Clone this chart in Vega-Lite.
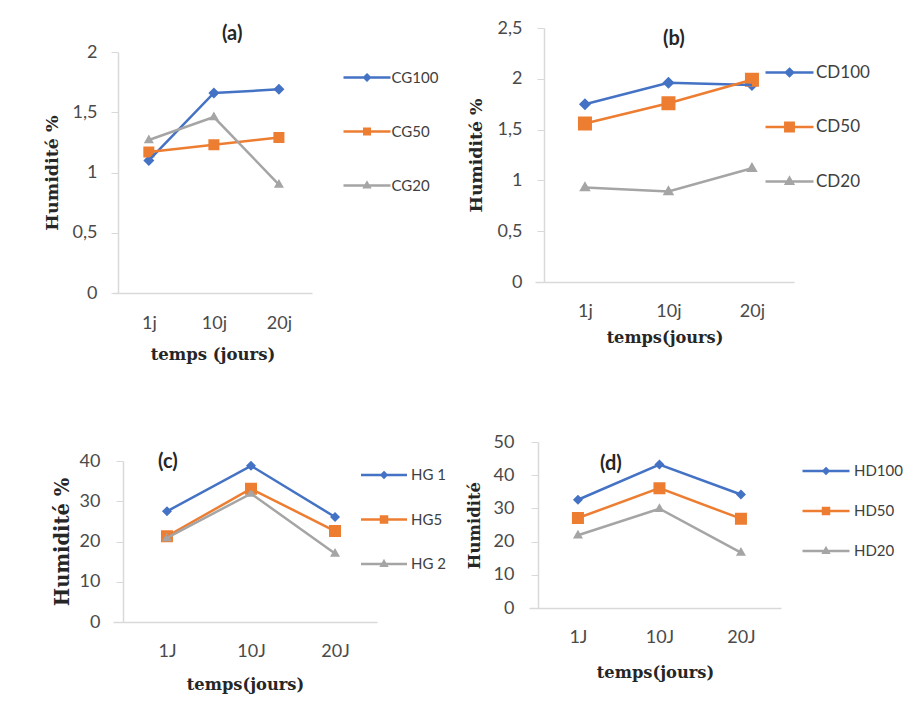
{
  "$schema": "https://vega.github.io/schema/vega-lite/v6.json",
  "background": "white",
  "autosize": {"type": "none"},
  "padding": {"left": 113, "top": 28, "right": 803, "bottom": 689},
  "config": {"view": {"stroke": null}, "font": "Lato"},
  "datasets": {
    "a": [
      {"t": "1j", "s": "CG100", "v": 1.10}, {"t": "10j", "s": "CG100", "v": 1.66}, {"t": "20j", "s": "CG100", "v": 1.69},
      {"t": "1j", "s": "CG50", "v": 1.17}, {"t": "10j", "s": "CG50", "v": 1.23}, {"t": "20j", "s": "CG50", "v": 1.29},
      {"t": "1j", "s": "CG20", "v": 1.27}, {"t": "10j", "s": "CG20", "v": 1.46}, {"t": "20j", "s": "CG20", "v": 0.90}
    ],
    "b": [
      {"t": "1j", "s": "CD100", "v": 1.75}, {"t": "10j", "s": "CD100", "v": 1.96}, {"t": "20j", "s": "CD100", "v": 1.94},
      {"t": "1j", "s": "CD50", "v": 1.56}, {"t": "10j", "s": "CD50", "v": 1.76}, {"t": "20j", "s": "CD50", "v": 1.99},
      {"t": "1j", "s": "CD20", "v": 0.93}, {"t": "10j", "s": "CD20", "v": 0.89}, {"t": "20j", "s": "CD20", "v": 1.12}
    ],
    "c": [
      {"t": "1J", "s": "HG 100", "v": 27.5}, {"t": "10J", "s": "HG 100", "v": 38.8}, {"t": "20J", "s": "HG 100", "v": 26.1},
      {"t": "1J", "s": "HG50", "v": 21.3}, {"t": "10J", "s": "HG50", "v": 33.1}, {"t": "20J", "s": "HG50", "v": 22.6},
      {"t": "1J", "s": "HG 20", "v": 20.9}, {"t": "10J", "s": "HG 20", "v": 31.9}, {"t": "20J", "s": "HG 20", "v": 17.0}
    ],
    "d": [
      {"t": "1J", "s": "HD100", "v": 32.6}, {"t": "10J", "s": "HD100", "v": 43.2}, {"t": "20J", "s": "HD100", "v": 34.2},
      {"t": "1J", "s": "HD50", "v": 27.1}, {"t": "10J", "s": "HD50", "v": 36.1}, {"t": "20J", "s": "HD50", "v": 26.9},
      {"t": "1J", "s": "HD20", "v": 21.9}, {"t": "10J", "s": "HD20", "v": 29.9}, {"t": "20J", "s": "HD20", "v": 16.7}
    ]
  },
  "resolve": {"scale": {"fill": "independent", "stroke": "independent", "shape": "independent"}, "legend": {"fill": "independent", "stroke": "independent", "shape": "independent"}},
  "spacing": 70,
  "vconcat": [
    {
      "spacing": 28,
      "resolve": {"scale": {"fill": "independent", "stroke": "independent", "shape": "independent"}, "legend": {"fill": "independent", "stroke": "independent", "shape": "independent"}},
      "hconcat": [
        {
          "width": 199, "height": 265,
          "title": {"text": "(a)", "anchor": "start", "frame": "group", "offset": 0, "dx": 109, "dy": 15.5, "font": "Lato", "fontSize": 20, "fontWeight": "bold", "color": "#262626"},
          "data": {"name": "a"},
          "encoding": {
            "x": {"field": "t", "type": "ordinal", "sort": ["1j", "10j", "20j"], "scale": {"type": "point", "padding": 0.53, "align": 0.52},
              "axis": {"title": "temps (jours)", "titleFont": "DejaVu Serif", "titleFontWeight": "bold", "titleFontSize": 16.5, "titleColor": "#262626", "titlePadding": 14, "labelFont": "Lato", "labelFontSize": 18, "labelColor": "#4a4a4a", "labelPadding": 21, "labelAngle": 0, "ticks": false, "tickSize": 0, "domainColor": "#d9d9d9", "domainWidth": 1.5, "grid": false}},
            "y": {"field": "v", "type": "quantitative", "scale": {"domain": [0, 2], "range": [265, 24], "nice": false},
              "axis": {"title": "Humidité %", "titleFont": "DejaVu Serif", "titleFontWeight": "bold", "titleFontSize": 17.5, "titleColor": "#262626", "titlePadding": 11, "values": [0, 0.5, 1, 1.5, 2], "labelExpr": "replace(toString(datum.value), '.', ',')", "labelFont": "Lato", "labelFontSize": 18, "labelColor": "#4a4a4a", "labelPadding": 14, "tickSize": 7, "tickColor": "#d9d9d9", "domainColor": "#d9d9d9", "domainWidth": 1.5, "offset": -5, "grid": false}},
            "stroke": {"field": "s", "type": "nominal", "sort": ["CG100", "CG50", "CG20"], "scale": {"domain": ["CG100", "CG50", "CG20"], "range": ["#4472C4", "#ED7D31", "#A5A5A5"]},
              "legend": {"title": null, "orient": "none", "legendX": 246.5, "legendY": 42, "padding": 0, "symbolSize": 25, "symbolStrokeWidth": 2.5, "labelFont": "Lato", "labelFontSize": 15, "labelColor": "#404040", "labelOffset": 17, "rowPadding": 37}}
          },
          "layer": [
            {"mark": {"type": "point", "filled": true, "opacity": 1, "size": 100, "strokeWidth": 0},
              "encoding": {
                "fill": {"field": "s", "type": "nominal", "sort": ["CG100", "CG50", "CG20"], "scale": {"domain": ["CG100", "CG50", "CG20"], "range": ["#4472C4", "#ED7D31", "#A5A5A5"]},
                  "legend": {"title": null, "orient": "none", "legendX": 246.5, "legendY": 42, "padding": 0, "symbolSize": 25, "symbolStrokeWidth": 2.5, "labelFont": "Lato", "labelFontSize": 15, "labelColor": "#404040", "labelOffset": 17, "rowPadding": 37}},
                "shape": {"field": "s", "type": "nominal", "sort": ["CG100", "CG50", "CG20"], "scale": {"domain": ["CG100", "CG50", "CG20"], "range": ["M-9.4,0H9.4M0,-1.1L1.1,0L0,1.1L-1.1,0Z", "M-9.4,0H9.4M-1.1,-1.1H1.1V1.1H-1.1Z", "M-9.4,0H9.4M0,-1.1L1,0.65L-1,0.65Z"]},
                  "legend": {"title": null, "orient": "none", "legendX": 246.5, "legendY": 42, "padding": 0, "symbolSize": 25, "symbolStrokeWidth": 2.5, "labelFont": "Lato", "labelFontSize": 15, "labelColor": "#404040", "labelOffset": 17, "rowPadding": 37}}}},
            {"mark": {"type": "line", "strokeWidth": 2.5}}
          ]
        },
        {
          "width": 259, "height": 254,
          "title": {"text": "(b)", "anchor": "start", "frame": "group", "offset": 0, "dx": 128, "dy": 29.5, "font": "Lato", "fontSize": 20, "fontWeight": "bold", "color": "#262626"},
          "data": {"name": "b"},
          "encoding": {
            "x": {"field": "t", "type": "ordinal", "sort": ["1j", "10j", "20j"], "scale": {"type": "point", "padding": 0.551, "align": 0.543},
              "axis": {"title": "temps(jours)", "titleFont": "DejaVu Serif", "titleFontWeight": "bold", "titleFontSize": 16.2, "titleColor": "#262626", "titlePadding": 9, "labelFont": "Lato", "labelFontSize": 18, "labelColor": "#4a4a4a", "labelPadding": 20, "labelAngle": 0, "ticks": false, "tickSize": 0, "domainColor": "#d9d9d9", "domainWidth": 1.5, "grid": false}},
            "y": {"field": "v", "type": "quantitative", "scale": {"domain": [0, 2.5], "nice": false},
              "axis": {"title": "Humidité %", "titleFont": "DejaVu Serif", "titleFontWeight": "bold", "titleFontSize": 17.3, "titleColor": "#262626", "titlePadding": 12, "values": [0, 0.5, 1, 1.5, 2, 2.5], "labelExpr": "replace(toString(datum.value), '.', ',')", "labelFont": "Lato", "labelFontSize": 18, "labelColor": "#4a4a4a", "labelPadding": 15, "tickSize": 7, "tickColor": "#d9d9d9", "domainColor": "#d9d9d9", "domainWidth": 1.5, "offset": -9, "grid": false}},
            "stroke": {"field": "s", "type": "nominal", "sort": ["CD100", "CD50", "CD20"], "scale": {"domain": ["CD100", "CD50", "CD20"], "range": ["#4472C4", "#ED7D31", "#A5A5A5"]},
              "legend": {"title": null, "orient": "none", "legendX": 246, "legendY": 36, "padding": 0, "symbolSize": 36, "symbolStrokeWidth": 2.5, "labelFont": "Lato", "labelFontSize": 17, "labelColor": "#404040", "labelOffset": 18, "rowPadding": 35.5}}
          },
          "layer": [
            {"mark": {"type": "point", "filled": true, "opacity": 1, "size": 100, "strokeWidth": 0},
              "encoding": {
                "fill": {"field": "s", "type": "nominal", "sort": ["CD100", "CD50", "CD20"], "scale": {"domain": ["CD100", "CD50", "CD20"], "range": ["#4472C4", "#ED7D31", "#A5A5A5"]},
                  "legend": {"title": null, "orient": "none", "legendX": 246, "legendY": 36, "padding": 0, "symbolSize": 36, "symbolStrokeWidth": 2.5, "labelFont": "Lato", "labelFontSize": 17, "labelColor": "#404040", "labelOffset": 18, "rowPadding": 35.5}},
                "shape": {"field": "s", "type": "nominal", "sort": ["CD100", "CD50", "CD20"], "scale": {"domain": ["CD100", "CD50", "CD20"], "range": ["M-8,0H8M0,-1.2L1.2,0L0,1.2L-1.2,0Z", "M-8,0H8M-1.4,-1.4H1.4V1.4H-1.4Z", "M-8,0H8M0,-1.25L1.15,0.75L-1.15,0.75Z"]},
                  "legend": {"title": null, "orient": "none", "legendX": 246, "legendY": 36, "padding": 0, "symbolSize": 36, "symbolStrokeWidth": 2.5, "labelFont": "Lato", "labelFontSize": 17, "labelColor": "#404040", "labelOffset": 18, "rowPadding": 35.5}}}},
            {"mark": {"type": "line", "strokeWidth": 2.5}}
          ]
        }
      ]
    },
    {
      "spacing": 19,
      "resolve": {"scale": {"fill": "independent", "stroke": "independent", "shape": "independent"}, "legend": {"fill": "independent", "stroke": "independent", "shape": "independent"}},
      "hconcat": [
        {
          "width": 264, "height": 180,
          "title": {"text": "(c)", "anchor": "start", "frame": "group", "offset": 0, "dx": 45, "dy": 29.5, "font": "Lato", "fontSize": 20, "fontWeight": "bold", "color": "#262626"},
          "data": {"name": "c"},
          "encoding": {
            "x": {"field": "t", "type": "ordinal", "sort": ["1J", "10J", "20J"], "scale": {"type": "point", "padding": 0.571, "align": 0.5625},
              "axis": {"title": "temps(jours)", "titleFont": "DejaVu Serif", "titleFontWeight": "bold", "titleFontSize": 16.3, "titleColor": "#262626", "titlePadding": 16, "labelFont": "Lato", "labelFontSize": 18, "labelColor": "#4a4a4a", "labelPadding": 20, "labelAngle": 0, "ticks": false, "tickSize": 0, "domainColor": "#d9d9d9", "domainWidth": 1.5, "grid": false}},
            "y": {"field": "v", "type": "quantitative", "scale": {"domain": [0, 40], "range": [180, 19], "nice": false},
              "axis": {"title": "Humidité %", "titleFont": "DejaVu Serif", "titleFontWeight": "bold", "titleFontSize": 19.5, "titleColor": "#262626", "titlePadding": 7, "values": [0, 10, 20, 30, 40], "labelFont": "Lato", "labelFontSize": 18, "labelColor": "#4a4a4a", "labelPadding": 16, "tickSize": 7, "tickColor": "#d9d9d9", "domainColor": "#d9d9d9", "domainWidth": 1.5, "offset": -10, "grid": false}},
            "stroke": {"field": "s", "type": "nominal", "sort": ["HG 100", "HG50", "HG 20"], "scale": {"domain": ["HG 100", "HG50", "HG 20"], "range": ["#4472C4", "#ED7D31", "#A5A5A5"]},
              "legend": {"title": null, "orient": "none", "legendX": 263.5, "legendY": 25.5, "padding": 0, "symbolSize": 25, "symbolStrokeWidth": 2.5, "labelFont": "Lato", "labelFontSize": 15, "labelColor": "#404040", "labelOffset": 19.5, "rowPadding": 27.5,
                "labelExpr": "datum.label === 'HG 100' ? 'HG 1' : datum.label === 'HG50' ? 'HG5' : 'HG 2'"}}
          },
          "layer": [
            {"mark": {"type": "point", "filled": true, "opacity": 1, "size": 100, "strokeWidth": 0},
              "encoding": {
                "fill": {"field": "s", "type": "nominal", "sort": ["HG 100", "HG50", "HG 20"], "scale": {"domain": ["HG 100", "HG50", "HG 20"], "range": ["#4472C4", "#ED7D31", "#A5A5A5"]},
                  "legend": {"title": null, "orient": "none", "legendX": 263.5, "legendY": 25.5, "padding": 0, "symbolSize": 25, "symbolStrokeWidth": 2.5, "labelFont": "Lato", "labelFontSize": 15, "labelColor": "#404040", "labelOffset": 19.5, "rowPadding": 27.5,
                    "labelExpr": "datum.label === 'HG 100' ? 'HG 1' : datum.label === 'HG50' ? 'HG5' : 'HG 2'"}},
                "shape": {"field": "s", "type": "nominal", "sort": ["HG 100", "HG50", "HG 20"], "scale": {"domain": ["HG 100", "HG50", "HG 20"], "range": ["M-9.2,0H9.2M0,-1L1,0L0,1L-1,0Z", "M-9.2,0H9.2M-1.2,-1.2H1.2V1.2H-1.2Z", "M-9.2,0H9.2M0,-1.1L1,0.65L-1,0.65Z"]},
                  "legend": {"title": null, "orient": "none", "legendX": 263.5, "legendY": 25.5, "padding": 0, "symbolSize": 25, "symbolStrokeWidth": 2.5, "labelFont": "Lato", "labelFontSize": 15, "labelColor": "#404040", "labelOffset": 19.5, "rowPadding": 27.5,
                    "labelExpr": "datum.label === 'HG 100' ? 'HG 1' : datum.label === 'HG50' ? 'HG5' : 'HG 2'"}}}},
            {"mark": {"type": "line", "strokeWidth": 2.5}}
          ]
        },
        {
          "width": 252, "height": 166,
          "title": {"text": "(d)", "anchor": "start", "frame": "group", "offset": 0, "dx": 71, "dy": 40.5, "font": "Lato", "fontSize": 20, "fontWeight": "bold", "color": "#262626"},
          "data": {"name": "d"},
          "encoding": {
            "x": {"field": "t", "type": "ordinal", "sort": ["1J", "10J", "20J"], "scale": {"type": "point", "padding": 0.546, "align": 0.55},
              "axis": {"title": "temps(jours)", "titleFont": "DejaVu Serif", "titleFontWeight": "bold", "titleFontSize": 16.3, "titleColor": "#262626", "titlePadding": 18, "labelFont": "Lato", "labelFontSize": 18, "labelColor": "#4a4a4a", "labelPadding": 20, "labelAngle": 0, "ticks": false, "tickSize": 0, "domainColor": "#d9d9d9", "domainWidth": 1.5, "grid": false}},
            "y": {"field": "v", "type": "quantitative", "scale": {"domain": [0, 50], "nice": false},
              "axis": {"title": "Humidité", "titleFont": "DejaVu Serif", "titleFontWeight": "bold", "titleFontSize": 16.5, "titleColor": "#262626", "titlePadding": 11, "values": [0, 10, 20, 30, 40, 50], "labelFont": "Lato", "labelFontSize": 18, "labelColor": "#4a4a4a", "labelPadding": 17, "tickSize": 7, "tickColor": "#d9d9d9", "domainColor": "#d9d9d9", "domainWidth": 1.5, "offset": -9, "grid": false}},
            "stroke": {"field": "s", "type": "nominal", "sort": ["HD100", "HD50", "HD20"], "scale": {"domain": ["HD100", "HD50", "HD20"], "range": ["#4472C4", "#ED7D31", "#A5A5A5"]},
              "legend": {"title": null, "orient": "none", "legendX": 289.5, "legendY": 21.5, "padding": 0, "symbolSize": 25, "symbolStrokeWidth": 2.5, "labelFont": "Lato", "labelFontSize": 15, "labelColor": "#404040", "labelOffset": 20.5, "rowPadding": 23}}
          },
          "layer": [
            {"mark": {"type": "point", "filled": true, "opacity": 1, "size": 100, "strokeWidth": 0},
              "encoding": {
                "fill": {"field": "s", "type": "nominal", "sort": ["HD100", "HD50", "HD20"], "scale": {"domain": ["HD100", "HD50", "HD20"], "range": ["#4472C4", "#ED7D31", "#A5A5A5"]},
                  "legend": {"title": null, "orient": "none", "legendX": 289.5, "legendY": 21.5, "padding": 0, "symbolSize": 25, "symbolStrokeWidth": 2.5, "labelFont": "Lato", "labelFontSize": 15, "labelColor": "#404040", "labelOffset": 20.5, "rowPadding": 23}},
                "shape": {"field": "s", "type": "nominal", "sort": ["HD100", "HD50", "HD20"], "scale": {"domain": ["HD100", "HD50", "HD20"], "range": ["M-9.4,0H9.4M0,-1L1,0L0,1L-1,0Z", "M-9.4,0H9.4M-1.2,-1.2H1.2V1.2H-1.2Z", "M-9.4,0H9.4M0,-1.1L1,0.65L-1,0.65Z"]},
                  "legend": {"title": null, "orient": "none", "legendX": 289.5, "legendY": 21.5, "padding": 0, "symbolSize": 25, "symbolStrokeWidth": 2.5, "labelFont": "Lato", "labelFontSize": 15, "labelColor": "#404040", "labelOffset": 20.5, "rowPadding": 23}}}},
            {"mark": {"type": "line", "strokeWidth": 2.5}}
          ]
        }
      ]
    }
  ]
}
